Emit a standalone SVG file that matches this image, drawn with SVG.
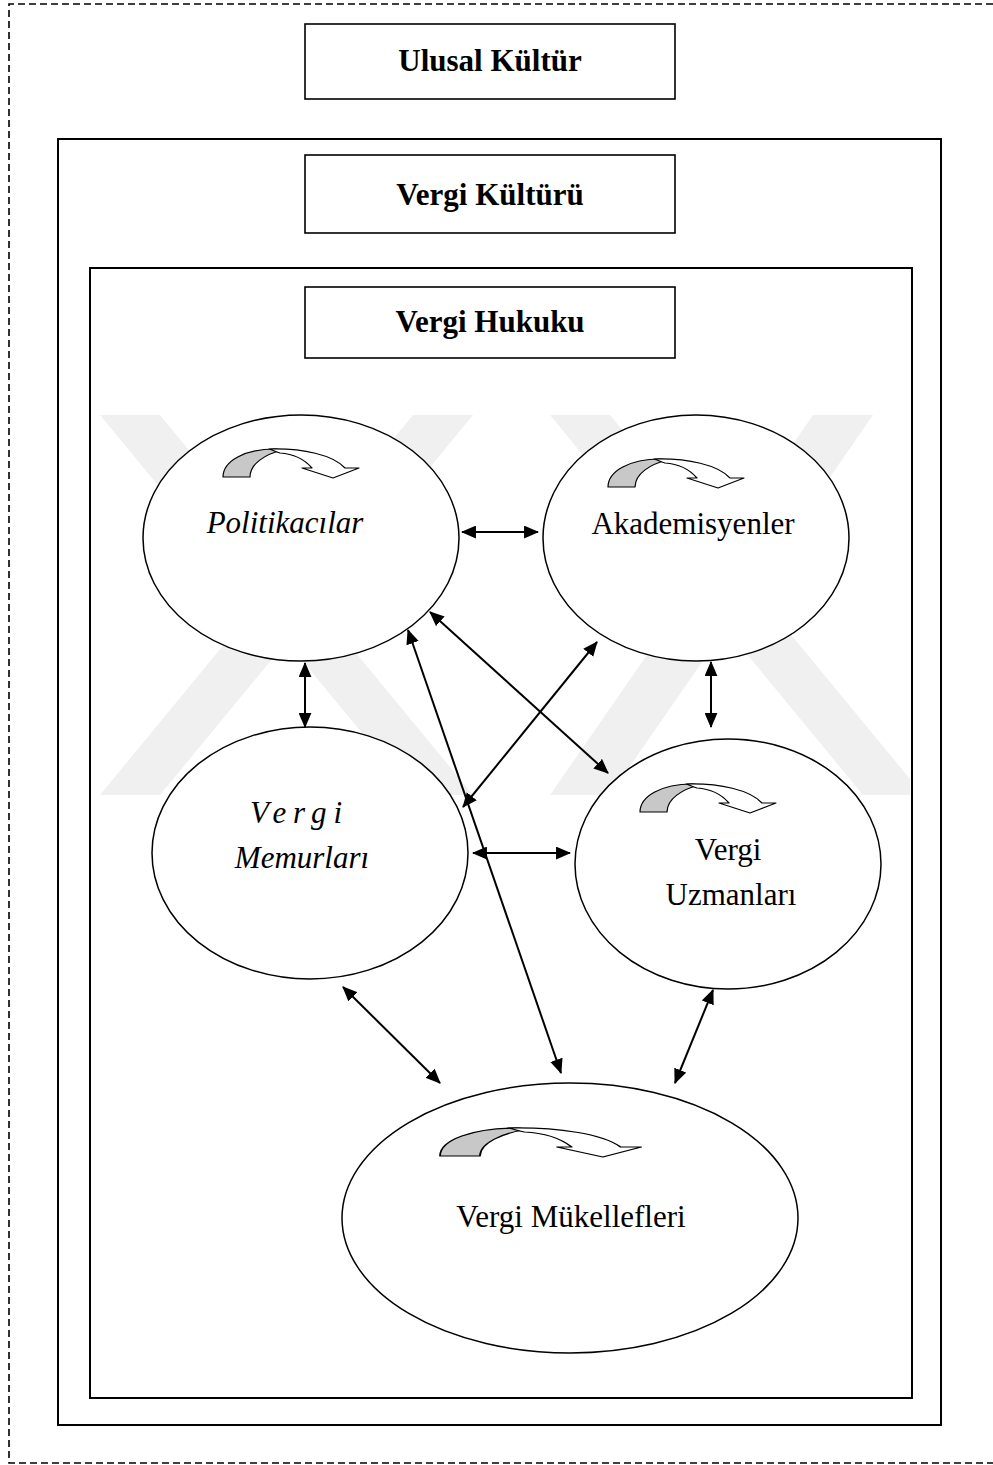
<svg xmlns="http://www.w3.org/2000/svg" width="993" height="1465" viewBox="0 0 993 1465">
<style>
.frame{fill:none;stroke:#000;stroke-width:2}
.tbox{fill:#fff;stroke:#000;stroke-width:1.6}
.ell{fill:#fff;stroke:#000;stroke-width:1.5}
.wm{fill:#f0f0f0;stroke:none}
.title{font-family:"Liberation Serif","Times New Roman",serif;font-weight:bold;font-size:31px;fill:#000;text-anchor:middle}
.lbl{font-family:"Liberation Serif","Times New Roman",serif;font-size:31px;fill:#000;text-anchor:middle}
.it{font-style:italic}
.con{stroke:#000;stroke-width:2;fill:none;marker-start:url(#ah);marker-end:url(#ah)}
.gray{fill:#c8c8c8;stroke:#000;stroke-width:1.2;stroke-linejoin:round}
.white{fill:#fff;stroke:#000;stroke-width:1.2;stroke-linejoin:round}
</style>
<defs>
<marker id="ah" viewBox="0 0 14 12" refX="13" refY="6" markerWidth="15" markerHeight="13" markerUnits="userSpaceOnUse" orient="auto-start-reverse">
<path d="M0,0 L14,6 L0,12 Z" fill="#000"/>
</marker>
<g id="curl">
<path class="gray" d="M0,0 C0,-16 22,-28 52,-28 L60,-27 C42,-23 27,-13 27,0 Z"/>
<path class="white" d="M46,-28 C80,-29 110,-22 122,-9 L136,-9 L110,1 L79,-9 L89,-9 C82,-17 72,-23 57,-24 C53,-25 50,-27 46,-28 Z"/>
</g>
</defs>
<rect width="993" height="1465" fill="#fff"/>
<g id="watermark">
<polygon class="wm" points="100,415 160,415 473,795 413,795"/>
<polygon class="wm" points="413,415 473,415 160,795 100,795"/>
<polygon class="wm" points="550,415 610,415 910,779 910,795 863,795"/>
<polygon class="wm" points="813,415 873,415 610,795 550,795"/>
</g>
<path d="M993,4 H9 V1463 H993" fill="none" stroke="#000" stroke-width="1.6" stroke-dasharray="7 4"/>
<g id="ulusal-kultur">
<rect class="tbox" x="305" y="24" width="370" height="75"/>
<text class="title" x="490" y="71">Ulusal Kültür</text>
</g>
<g id="vergi-kulturu">
<rect class="frame" x="58" y="139" width="883" height="1286"/>
<rect class="tbox" x="305" y="155" width="370" height="78"/>
<text class="title" x="490" y="205">Vergi Kültürü</text>
</g>
<g id="vergi-hukuku">
<rect class="frame" x="90" y="268" width="822" height="1130"/>
<rect class="tbox" x="305" y="287" width="370" height="71"/>
<text class="title" x="490" y="332">Vergi Hukuku</text>
</g>
<g id="politikacilar">
<ellipse class="ell" cx="301" cy="538" rx="158" ry="123"/>
<use href="#curl" x="223" y="477"/>
<text class="lbl it" x="285" y="533">Politikacılar</text>
</g>
<g id="akademisyenler">
<ellipse class="ell" cx="696" cy="538" rx="153" ry="123"/>
<use href="#curl" x="608" y="487"/>
<text class="lbl" x="693" y="534">Akademisyenler</text>
</g>
<g id="vergi-memurlari">
<ellipse class="ell" cx="310" cy="853" rx="158" ry="126"/>
<text class="lbl it" x="296" y="823" textLength="92" lengthAdjust="spacing">Vergi</text>
<text class="lbl it" x="302" y="868">Memurları</text>
</g>
<g id="vergi-uzmanlari">
<ellipse class="ell" cx="728" cy="864" rx="153" ry="125"/>
<use href="#curl" x="640" y="812"/>
<text class="lbl" x="728" y="860">Vergi</text>
<text class="lbl" x="731" y="905">Uzmanları</text>
</g>
<g id="vergi-mukellefleri">
<ellipse class="ell" cx="570" cy="1218" rx="228" ry="135"/>
<use href="#curl" transform="translate(440,1156) scale(1.48,1)"/>
<text class="lbl" x="571" y="1227">Vergi Mükellefleri</text>
</g>
<g id="connectors">
<line class="con" x1="462" y1="532" x2="538" y2="532"/>
<line class="con" x1="305" y1="663" x2="305" y2="727"/>
<line class="con" x1="711" y1="662" x2="711" y2="727"/>
<line class="con" x1="430" y1="612" x2="608" y2="773"/>
<line class="con" x1="408" y1="630" x2="561" y2="1073"/>
<line class="con" x1="463" y1="807" x2="597" y2="642"/>
<line class="con" x1="473" y1="853" x2="570" y2="853"/>
<line class="con" x1="343" y1="987" x2="440" y2="1083"/>
<line class="con" x1="713" y1="990" x2="675" y2="1083"/>
</g>
</svg>
